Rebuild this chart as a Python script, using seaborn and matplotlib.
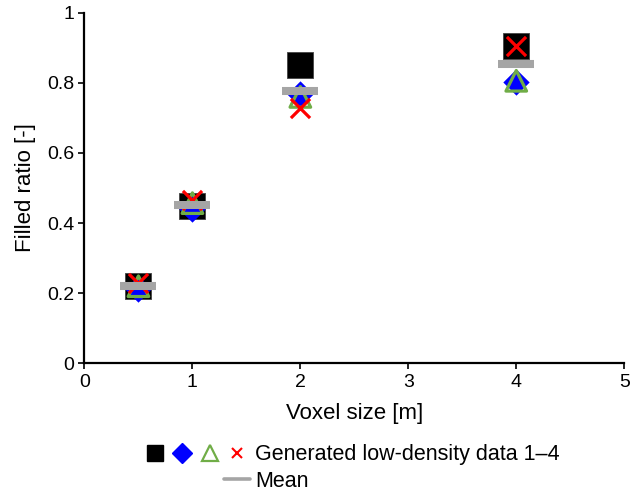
import numpy as np
import pandas as pd
import matplotlib
matplotlib.use('Agg')
import matplotlib.pyplot as plt
import seaborn as sns
from matplotlib.lines import Line2D
from matplotlib.legend_handler import HandlerTuple

# Data
voxel_size = [0.5, 1, 2, 4]
data1 = [0.221, 0.450, 0.850, 0.905]   # black squares
data2 = [0.211, 0.440, 0.768, 0.802]   # blue diamonds
data3 = [0.220, 0.457, 0.760, 0.806]   # green triangles
data4 = [0.229, 0.465, 0.728, 0.905]   # red crosses

x_ticks = [0, 1, 2, 3, 4, 5]
y_ticks = [0, 0.2, 0.4, 0.6, 0.8, 1]
y_ticklabels = ['0', '0.2', '0.4', '0.6', '0.8', '1']

df = pd.DataFrame({'voxel': voxel_size, 'd1': data1, 'd2': data2,
                   'd3': data3, 'd4': data4})
df['mean'] = df[['d1', 'd2', 'd3', 'd4']].mean(axis=1)

sns.set_style('ticks')
plt.rcParams['font.family'] = ['Liberation Sans', 'DejaVu Sans']
plt.rcParams['text.color'] = 'black'

GREEN = '#70AD47'
GRAY = '#A5A5A5'

fig = plt.figure(figsize=(6.35, 4.91), dpi=100)
ax = fig.add_axes([0.133, 0.260, 0.850, 0.714])

sns.scatterplot(data=df, x='voxel', y='d1', marker='s', s=370, color='black',
                edgecolor='#444444', linewidth=0.6, ax=ax, zorder=3)
sns.scatterplot(data=df, x='voxel', y='d2', marker='D', s=180, color='blue',
                linewidth=0, ax=ax, zorder=4)
sns.scatterplot(data=df, x='voxel', y='d3', marker='^', s=220, facecolor='none',
                edgecolor=GREEN, linewidth=2.3, ax=ax, zorder=5)
sns.scatterplot(data=df, x='voxel', y='d4', marker='x', s=190, color='red',
                linewidth=2.3, ax=ax, zorder=6)
sns.scatterplot(data=df, x='voxel', y='mean', marker='_', s=680, color=GRAY,
                linewidth=5.8, ax=ax, zorder=7)

ax.set_xlim(0, 5)
ax.set_ylim(0, 1)
ax.set_xticks(x_ticks)
ax.set_yticks(y_ticks)
ax.set_yticklabels(y_ticklabels)
ax.tick_params(labelsize=14, width=1.2, length=4, color='black', labelcolor='black')
ax.set_xlabel('Voxel size [m]', fontsize=16, color='black', labelpad=9)
ax.set_ylabel('Filled ratio [-]', fontsize=16, color='black', labelpad=8)
sns.despine(ax=ax)
for s in ['left', 'bottom']:
    ax.spines[s].set_linewidth(1.6)
    ax.spines[s].set_color('black')

# legend proxies
h1 = Line2D([], [], linestyle='none', marker='s', markersize=11.5, color='black')
h2 = Line2D([], [], linestyle='none', marker='D', markersize=10.5, color='blue')
h3 = Line2D([], [], linestyle='none', marker='^', markersize=11, markerfacecolor='none',
            markeredgecolor=GREEN, markeredgewidth=1.6)
h4 = Line2D([], [], linestyle='none', marker='x', markersize=7.5, color='red',
            markeredgewidth=1.5)
blank = Line2D([], [], linestyle='none')
hm = Line2D([], [], color=GRAY, linewidth=2.6)

leg = fig.legend([(h1, h2, h3, h4), (blank, blank, blank, hm)],
                 ['Generated low-density data 1\u20134', 'Mean'],
                 handler_map={tuple: HandlerTuple(ndivide=None, pad=0.1)},
                 loc='upper left', bbox_to_anchor=(0.224, 0.095), frameon=False,
                 fontsize=15.5, handlelength=4.99, handletextpad=0.25,
                 labelspacing=0.24, borderpad=0, borderaxespad=0)
for t in leg.get_texts():
    t.set_color('black')

fig.savefig('out.png', dpi=100)
